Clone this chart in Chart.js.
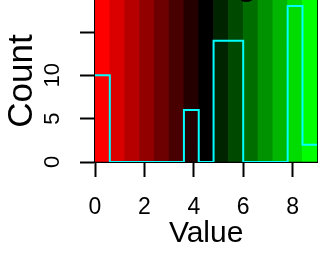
<!DOCTYPE html>
<html>
<head>
<meta charset="utf-8">
<script src="https://cdn.jsdelivr.net/npm/chart.js@4/dist/chart.umd.min.js"></script>
<style>
    html, body { margin: 0; padding: 0; background: #fff; overflow: hidden; }
    body { width: 322px; height: 256px; position: relative; }
    /* canvas sticks out above the page so the key title is cut like in the picture */
    #wrap { position: absolute; left: 0; top: -40px; width: 322px; height: 296px; }
</style>
</head>
<body>
<div id="wrap"><canvas id="keyChart"></canvas></div>
<script>
// histogram bins (colour key breaks) and counts
const breaks = [0, 0.6, 1.2, 1.8, 2.4, 3.0, 3.6, 4.2, 4.8, 5.4, 6.0, 6.6, 7.2, 7.8, 8.4, 9.0];
const binMids = [0.3, 0.9, 1.5, 2.1, 2.7, 3.3, 3.9, 4.5, 5.1, 5.7, 6.3, 6.9, 7.5, 8.1, 8.7];
const counts = [10, 0, 0, 0, 0, 0, 6, 0, 14, 14, 0, 0, 0, 18, 2];
const keyColors = ['#FF0000', '#DB0000', '#B60000', '#920000', '#6D0000', '#490000', '#240000', '#000000',
                   '#002400', '#004900', '#006D00', '#009200', '#00B600', '#00DB00', '#00FF00'];
const xTicks = [0, 2, 4, 6, 8];
const yTicks = [0, 5, 10, 15];
const yTickLabels = ['0', '5', '10', ''];
const yMax = 18.7;
const keyTitle = ['Color Key', 'and Histogram'];

const FONT = '"Liberation Sans", Arial, Helvetica, sans-serif';
const SHIFT = 40;

document.addEventListener('DOMContentLoaded', function() {
    initializeChart();
});

function initializeChart() {
    const ctx = document.getElementById('keyChart').getContext('2d');

    // step line like R type="s": the last count is repeated at the last break
    const stepPoints = breaks.map((b, i) => ({ x: b, y: i < counts.length ? counts[i] : counts[counts.length - 1] }));
    const bands = binMids.map(m => ({ x: m, y: [0, yMax] }));

    const keyTitlePlugin = {
        id: 'keyTitle',
        afterDraw(chart) {
            const c = chart.ctx;
            const area = chart.chartArea;
            const cx = (area.left + area.right) / 2;
            c.save();
            c.fillStyle = '#000';
            c.font = 'bold 30px ' + FONT;
            c.textAlign = 'center';
            c.textBaseline = 'alphabetic';
            c.fillText(keyTitle[1], cx, area.top - 3.6);
            c.fillText(keyTitle[0], cx, area.top - 3.6 - 36);
            c.restore();
        }
    };

    // fixed axis boxes so the plot area lands where it is in the picture
    function fixBox(size, horizontal) {
        return s => {
            if (horizontal) s.height = size; else s.width = size;
            s.paddingTop = 0;
            s.paddingBottom = 0;
            s.paddingLeft = 0;
            s.paddingRight = 0;
        };
    }

    const chart = new Chart(ctx, {
        type: 'line',
        data: {
            datasets: [{
                type: 'line',
                data: stepPoints,
                borderColor: '#00FFFF',
                borderWidth: 2,
                stepped: true,
                pointRadius: 0,
                fill: false,
                clip: 0,
                order: 0
            }, {
                type: 'bar',
                data: bands,
                backgroundColor: keyColors,
                borderWidth: 0,
                barPercentage: 1,
                categoryPercentage: 1,
                order: 1
            }]
        },
        options: {
            responsive: true,
            maintainAspectRatio: false,
            animation: false,
            devicePixelRatio: 1,
            layout: { padding: { top: SHIFT, right: 4.7, bottom: 0, left: 0 } },
            plugins: {
                legend: { display: false },
                tooltip: { enabled: false }
            },
            scales: {
                x: {
                    type: 'linear',
                    min: 0,
                    max: 9,
                    offset: false,
                    afterBuildTicks: s => { s.ticks = xTicks.map(v => ({ value: v })); },
                    afterFit: fixBox(94, true),
                    grid: { offset: false, drawOnChartArea: false, color: '#000', tickColor: '#000', tickWidth: 2, tickLength: 15 },
                    border: { display: true, color: '#000', width: 2 },
                    ticks: {
                        autoSkip: false,
                        maxRotation: 0,
                        padding: 17,
                        color: '#000',
                        font: { family: FONT, size: 23 },
                        callback: v => String(v)
                    },
                    title: {
                        display: true,
                        text: 'Value',
                        color: '#000',
                        font: { family: FONT, size: 30 },
                        padding: { top: 0, bottom: 4 }
                    }
                },
                y: {
                    type: 'linear',
                    position: 'left',
                    min: 0,
                    max: yMax,
                    offset: false,
                    afterBuildTicks: s => { s.ticks = yTicks.map(v => ({ value: v })); },
                    afterFit: fixBox(95, false),
                    grid: { offset: false, drawOnChartArea: false, color: '#000', tickColor: '#000', tickWidth: 2, tickLength: 15 },
                    border: { display: true, color: '#000', width: 2 },
                    ticks: {
                        autoSkip: false,
                        minRotation: 90,
                        maxRotation: 90,
                        crossAlign: 'center',
                        padding: 15,
                        color: '#000',
                        font: { family: FONT, size: 22 },
                        callback: (v, i) => yTickLabels[i]
                    },
                    title: {
                        display: true,
                        text: 'Count',
                        color: '#000',
                        font: { family: FONT, size: 35 },
                        padding: { top: 1, bottom: 0 }
                    }
                },
                y2: {
                    type: 'linear',
                    position: 'right',
                    afterFit: fixBox(0, false),
                    grid: { display: false },
                    ticks: { display: false },
                    border: { display: true, color: '#000', width: 2 }
                }
            }
        },
        plugins: [keyTitlePlugin]
    });

    window.keyChart = chart;
}
</script>
</body>
</html>
